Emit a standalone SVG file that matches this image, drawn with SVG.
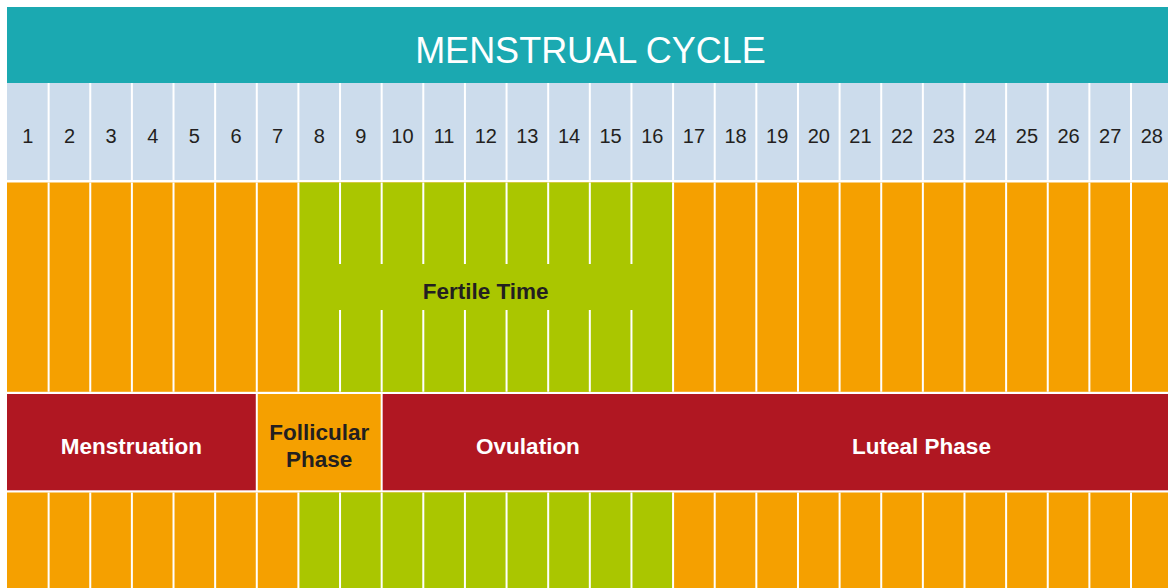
<svg xmlns="http://www.w3.org/2000/svg" width="1168" height="588" viewBox="0 0 1168 588">
<style>
.day{fill:#CCDCEC}
.num{font-family:"Liberation Sans",Arial,sans-serif;font-size:20px;fill:#231F20;text-anchor:middle}
.or{fill:#F5A000}
.gr{fill:#AAC600}
.rd{fill:#B01722}
.div{stroke:#FFFFFF;stroke-width:2}
.lbl{font-family:"Liberation Sans",Arial,sans-serif;font-size:22.5px;font-weight:bold;text-anchor:middle}
.w{fill:#FFFFFF}
.k{fill:#231F20}
</style>
<rect width="1168" height="588" fill="#FFFFFF"/>
<g id="header">
<rect x="7" y="7" width="1161" height="76" fill="#1BA9B1"/>
<text x="590.5" y="63" font-family="'Liberation Sans',Arial,sans-serif" font-size="36" fill="#FFFFFF" text-anchor="middle">MENSTRUAL CYCLE</text>
</g>
<g id="days">
<g id="day-1"><rect class="day" x="7" y="83" width="40.63" height="97"/><text class="num" x="27.82" y="143">1</text></g>
<g id="day-2"><rect class="day" x="49.63" y="83" width="39.63" height="97"/><text class="num" x="69.45" y="143">2</text></g>
<g id="day-3"><rect class="day" x="91.26" y="83" width="39.63" height="97"/><text class="num" x="111.08" y="143">3</text></g>
<g id="day-4"><rect class="day" x="132.89" y="83" width="39.63" height="97"/><text class="num" x="152.71" y="143">4</text></g>
<g id="day-5"><rect class="day" x="174.52" y="83" width="39.63" height="97"/><text class="num" x="194.34" y="143">5</text></g>
<g id="day-6"><rect class="day" x="216.15" y="83" width="39.63" height="97"/><text class="num" x="235.97" y="143">6</text></g>
<g id="day-7"><rect class="day" x="257.78" y="83" width="39.63" height="97"/><text class="num" x="277.6" y="143">7</text></g>
<g id="day-8"><rect class="day" x="299.41" y="83" width="39.63" height="97"/><text class="num" x="319.23" y="143">8</text></g>
<g id="day-9"><rect class="day" x="341.04" y="83" width="39.63" height="97"/><text class="num" x="360.86" y="143">9</text></g>
<g id="day-10"><rect class="day" x="382.67" y="83" width="39.63" height="97"/><text class="num" x="402.49" y="143">10</text></g>
<g id="day-11"><rect class="day" x="424.3" y="83" width="39.63" height="97"/><text class="num" x="444.12" y="143">11</text></g>
<g id="day-12"><rect class="day" x="465.93" y="83" width="39.63" height="97"/><text class="num" x="485.75" y="143">12</text></g>
<g id="day-13"><rect class="day" x="507.56" y="83" width="39.63" height="97"/><text class="num" x="527.38" y="143">13</text></g>
<g id="day-14"><rect class="day" x="549.19" y="83" width="39.63" height="97"/><text class="num" x="569.01" y="143">14</text></g>
<g id="day-15"><rect class="day" x="590.82" y="83" width="39.63" height="97"/><text class="num" x="610.64" y="143">15</text></g>
<g id="day-16"><rect class="day" x="632.45" y="83" width="39.63" height="97"/><text class="num" x="652.27" y="143">16</text></g>
<g id="day-17"><rect class="day" x="674.08" y="83" width="39.63" height="97"/><text class="num" x="693.9" y="143">17</text></g>
<g id="day-18"><rect class="day" x="715.71" y="83" width="39.63" height="97"/><text class="num" x="735.53" y="143">18</text></g>
<g id="day-19"><rect class="day" x="757.34" y="83" width="39.63" height="97"/><text class="num" x="777.16" y="143">19</text></g>
<g id="day-20"><rect class="day" x="798.97" y="83" width="39.63" height="97"/><text class="num" x="818.79" y="143">20</text></g>
<g id="day-21"><rect class="day" x="840.6" y="83" width="39.63" height="97"/><text class="num" x="860.42" y="143">21</text></g>
<g id="day-22"><rect class="day" x="882.23" y="83" width="39.63" height="97"/><text class="num" x="902.05" y="143">22</text></g>
<g id="day-23"><rect class="day" x="923.86" y="83" width="39.63" height="97"/><text class="num" x="943.68" y="143">23</text></g>
<g id="day-24"><rect class="day" x="965.49" y="83" width="39.63" height="97"/><text class="num" x="985.31" y="143">24</text></g>
<g id="day-25"><rect class="day" x="1007.12" y="83" width="39.63" height="97"/><text class="num" x="1026.94" y="143">25</text></g>
<g id="day-26"><rect class="day" x="1048.75" y="83" width="39.63" height="97"/><text class="num" x="1068.57" y="143">26</text></g>
<g id="day-27"><rect class="day" x="1090.38" y="83" width="39.63" height="97"/><text class="num" x="1110.2" y="143">27</text></g>
<g id="day-28"><rect class="day" x="1132.01" y="83" width="40.63" height="97"/><text class="num" x="1151.83" y="143">28</text></g>
</g>
<g id="top-bars">
<rect class="or" x="7" y="182.5" width="1161" height="209.3"/>
<rect class="gr" x="299.41" y="182.5" width="372.67" height="209.3"/>
</g>
<g id="fertile-time">
<text class="lbl k" x="485.7" y="299">Fertile Time</text>
</g>
<g id="phase-menstruation">
<rect class="rd" x="7" y="394" width="248.78" height="96.3"/>
<text class="lbl w" x="131.4" y="454">Menstruation</text>
</g>
<g id="phase-follicular">
<rect class="or" x="257.78" y="394" width="122.89" height="96.3"/>
<text class="lbl k" x="319.2" y="440">Follicular</text>
<text class="lbl k" x="319.2" y="467">Phase</text>
</g>
<g id="phase-ovulation-luteal">
<rect class="rd" x="382.67" y="394" width="785.33" height="96.3"/>
<text class="lbl w" x="528" y="454">Ovulation</text>
<text class="lbl w" x="921.5" y="454">Luteal Phase</text>
</g>
<g id="bottom-bars">
<rect class="or" x="7" y="492.5" width="1161" height="95.5"/>
<rect class="gr" x="299.41" y="492.5" width="372.67" height="95.5"/>
</g>
<g id="connectors">
<path class="div" d="M48.63 182.5V391.8M90.26 182.5V391.8M131.89 182.5V391.8M173.52 182.5V391.8M215.15 182.5V391.8M256.78 182.5V391.8M298.41 182.5V391.8
M340.04 182.5V264M381.67 182.5V264M423.3 182.5V264M464.93 182.5V264M506.56 182.5V264M548.19 182.5V264M589.82 182.5V264M631.45 182.5V264
M340.04 310V391.8M381.67 310V391.8M423.3 310V391.8M464.93 310V391.8M506.56 310V391.8M548.19 310V391.8M589.82 310V391.8M631.45 310V391.8
M673.08 182.5V391.8M714.71 182.5V391.8M756.34 182.5V391.8M797.97 182.5V391.8M839.6 182.5V391.8M881.23 182.5V391.8M922.86 182.5V391.8M964.49 182.5V391.8M1006.12 182.5V391.8M1047.75 182.5V391.8M1089.38 182.5V391.8M1131.01 182.5V391.8"/>
<path class="div" d="M48.63 492.5V588M90.26 492.5V588M131.89 492.5V588M173.52 492.5V588M215.15 492.5V588M256.78 492.5V588M298.41 492.5V588M340.04 492.5V588M381.67 492.5V588M423.3 492.5V588M464.93 492.5V588M506.56 492.5V588M548.19 492.5V588M589.82 492.5V588M631.45 492.5V588M673.08 492.5V588M714.71 492.5V588M756.34 492.5V588M797.97 492.5V588M839.6 492.5V588M881.23 492.5V588M922.86 492.5V588M964.49 492.5V588M1006.12 492.5V588M1047.75 492.5V588M1089.38 492.5V588M1131.01 492.5V588"/>
</g>
</svg>
